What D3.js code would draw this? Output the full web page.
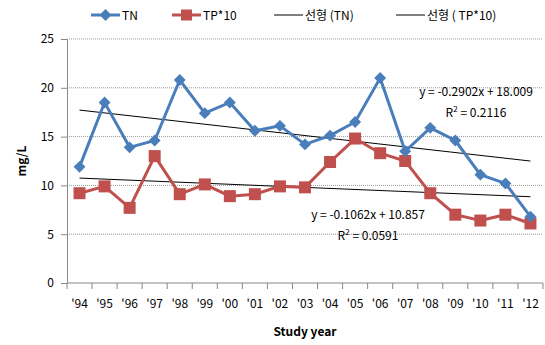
<!DOCTYPE html>
<html>
<head>
<meta charset="utf-8">
<script src="https://cdn.jsdelivr.net/npm/d3@7"></script>
<style>
  body { margin: 0; background: #fff; }
  text { font-family: "Noto Sans CJK KR", "Open Sans", sans-serif; }
</style>
</head>
<body>
<div id="wrapper"></div>
<script>
const years = ["'94", "'95", "'96", "'97", "'98", "'99", "'00", "'01", "'02", "'03",
    "'04", "'05", "'06", "'07", "'08", "'09", "'10", "'11", "'12"];
const tnValues = [11.9, 18.5, 13.9, 14.6, 20.8, 17.4, 18.5, 15.6, 16.1, 14.2,
    15.1, 16.5, 21.0, 13.5, 15.9, 14.6, 11.1, 10.2, 6.8];
const tpValues = [9.2, 9.9, 7.7, 13.0, 9.1, 10.1, 8.9, 9.1, 9.9, 9.8,
    12.4, 14.8, 13.3, 12.5, 9.2, 7.0, 6.4, 7.0, 6.1];
// trend line coefficients [slope, intercept, R2]
const tnTrend = [-0.2902, 18.009, 0.2116];
const tpTrend = [-0.1062, 10.857, 0.0591];
const yTicks = [0, 5, 10, 15, 20, 25];
const legendLabels = ["TN", "TP*10", "선형 (TN)", "선형 ( TP*10)"];

const blue = "#4a7ebb";
const red = "#c0504d";

let dimensions = {
    width: 545,
    height: 345,
    margin: { top: 39, right: 2, bottom: 62, left: 67 }
};
dimensions.boundedWidth = dimensions.width - dimensions.margin.left - dimensions.margin.right;
dimensions.boundedHeight = dimensions.height - dimensions.margin.top - dimensions.margin.bottom;

const svg = d3.select("#wrapper")
    .append("svg")
    .attr("width", dimensions.width)
    .attr("height", dimensions.height);

const g = svg.append("g")
    .attr("transform", `translate(${dimensions.margin.left},${dimensions.margin.top})`);

const xScale = d3.scaleBand()
    .domain(years)
    .range([0, dimensions.boundedWidth]);

const yScale = d3.scaleLinear()
    .domain([0, 25])
    .range([dimensions.boundedHeight, 0]);

const xc = d => xScale(d) + xScale.bandwidth() / 2;

// grid lines
g.append("g")
    .selectAll("line")
    .data(yTicks.filter(d => d > 0))
    .join("line")
    .attr("x1", 0)
    .attr("x2", dimensions.boundedWidth)
    .attr("y1", d => yScale(d))
    .attr("y2", d => yScale(d))
    .attr("stroke", "#999")
    .attr("stroke-width", 1)
    .attr("stroke-dasharray", "1,1");

// y axis
const yAxis = g.append("g")
    .call(d3.axisLeft(yScale).tickValues(yTicks).tickSize(6).tickPadding(7));
yAxis.select(".domain").attr("stroke", "#888");
yAxis.selectAll(".tick line").attr("stroke", "#888");
yAxis.selectAll("text").attr("font-size", 12).attr("fill", "#000");

// x axis: ticks between categories
const xAxisG = g.append("g")
    .attr("transform", `translate(0,${dimensions.boundedHeight})`);
xAxisG.append("line")
    .attr("x1", 0).attr("x2", dimensions.boundedWidth)
    .attr("stroke", "#888");
xAxisG.selectAll(".xtick")
    .data(years.concat(["end"]))
    .join("line")
    .attr("class", "xtick")
    .attr("x1", (d, i) => i * xScale.bandwidth())
    .attr("x2", (d, i) => i * xScale.bandwidth())
    .attr("y1", 0).attr("y2", 6)
    .attr("stroke", "#888");
xAxisG.selectAll(".xlab")
    .data(years)
    .join("text")
    .attr("class", "xlab")
    .attr("x", d => xc(d))
    .attr("y", 25)
    .attr("text-anchor", "middle")
    .attr("font-size", 12)
    .text(d => d);

// trend lines
function trendLine(coef) {
    const n = years.length;
    return [[years[0], coef[0] * 1 + coef[1]], [years[n - 1], coef[0] * n + coef[1]]];
}
[tnTrend, tpTrend].forEach(coef => {
    g.append("path")
        .datum(trendLine(coef))
        .attr("d", d3.line().x(d => xc(d[0])).y(d => yScale(d[1])))
        .attr("stroke", "#000")
        .attr("stroke-width", 1)
        .attr("fill", "none");
});

// series lines
const line = d3.line()
    .x((d, i) => xc(years[i]))
    .y(d => yScale(d));

g.append("path")
    .datum(tpValues)
    .attr("d", line)
    .attr("stroke", red)
    .attr("stroke-width", 3)
    .attr("fill", "none");

g.selectAll(".tp")
    .data(tpValues)
    .join("rect")
    .attr("class", "tp")
    .attr("x", (d, i) => xc(years[i]) - 6)
    .attr("y", d => yScale(d) - 6)
    .attr("width", 12)
    .attr("height", 12)
    .attr("fill", red);

g.append("path")
    .datum(tnValues)
    .attr("d", line)
    .attr("stroke", blue)
    .attr("stroke-width", 3)
    .attr("fill", "none");

const diamond = d3.symbol().type(d3.symbolDiamond2).size(90);
g.selectAll(".tn")
    .data(tnValues)
    .join("path")
    .attr("class", "tn")
    .attr("d", diamond)
    .attr("transform", (d, i) => `translate(${xc(years[i])},${yScale(d)})`)
    .attr("fill", blue);

// equations
function annot(coef, x, y) {
    const t = g.append("g").attr("font-size", 12);
    t.append("text")
        .attr("x", x).attr("y", y)
        .attr("text-anchor", "middle")
        .text(`y = ${coef[0]}x + ${coef[1]}`);
    const r = t.append("text")
        .attr("x", x).attr("y", y + 21)
        .attr("text-anchor", "middle");
    r.append("tspan").text("R");
    r.append("tspan").attr("dy", -5).attr("font-size", 8).text("2");
    r.append("tspan").attr("dy", 5).text(` = ${coef[2]}`);
}
annot(tnTrend, 409, 57);
annot(tpTrend, 301, 180);

// axis titles
svg.append("text")
    .attr("transform", "translate(26,161) rotate(-90)")
    .attr("text-anchor", "middle")
    .attr("font-size", 12)
    .attr("font-weight", "bold")
    .text("mg/L");

svg.append("text")
    .attr("x", 305)
    .attr("y", 336)
    .attr("text-anchor", "middle")
    .attr("font-size", 12)
    .attr("font-weight", "bold")
    .text("Study year");

// legend
const legendX = [91, 172, 274, 396];
const legend = svg.append("g").attr("font-size", 12);
legendLabels.forEach((lab, i) => {
    const lg = legend.append("g").attr("transform", `translate(${legendX[i]},15)`);
    const col = i === 0 ? blue : i === 1 ? red : "#000";
    lg.append("line")
        .attr("x1", 0).attr("x2", 29)
        .attr("stroke", col)
        .attr("stroke-width", i < 2 ? 3 : 1);
    if (i === 0) {
        lg.append("path").attr("d", diamond).attr("transform", "translate(14.5,0)").attr("fill", blue);
    } else if (i === 1) {
        lg.append("rect").attr("x", 9).attr("y", -5.5).attr("width", 11).attr("height", 11).attr("fill", red);
    }
    lg.append("text")
        .attr("x", 31).attr("y", 4.5)
        .text(lab);
});
</script>
</body>
</html>
